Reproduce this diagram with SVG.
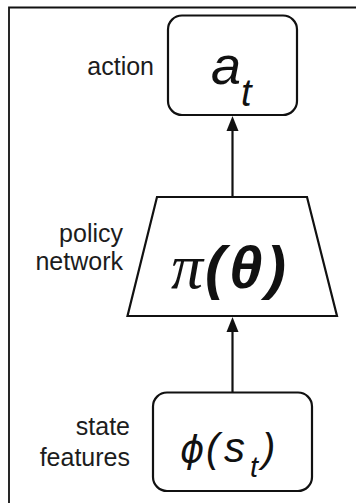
<svg xmlns="http://www.w3.org/2000/svg" width="356" height="503" viewBox="0 0 356 503">
<style>
.box{fill:#fff;stroke:#111;stroke-width:2.2}
.lbl{font-family:"Liberation Sans",Arial,sans-serif;font-size:25px;fill:#1c1c1c;text-anchor:end}
.math{font-family:"Liberation Sans",Arial,sans-serif;font-style:italic;fill:#111}
.conn{stroke:#111;stroke-width:2.2;fill:none}
.head{fill:#111}
</style>
<rect x="0" y="0" width="356" height="503" fill="#fff"/>
<g id="frame">
<path d="M9,503 V7.5 H356" fill="none" stroke="#111" stroke-width="1.8"/>
</g>
<g id="connectors">
<line class="conn" x1="232.5" y1="197" x2="232.5" y2="131"/>
<path class="head" d="M226.5,131 L232.5,116 L238.5,131 Z"/>
<line class="conn" x1="232.5" y1="392" x2="232.5" y2="332"/>
<path class="head" d="M226.5,332 L232.5,317 L238.5,332 Z"/>
</g>
<g id="action">
<rect class="box" x="168" y="15.5" width="129" height="99.5" rx="14"/>
<text class="math" x="211" y="84" font-size="54">a</text>
<text class="math" x="241" y="106" font-size="38">t</text>
<text class="lbl" x="154" y="75">action</text>
</g>
<g id="policy">
<path class="box" d="M157,197 L307,197 L337,316 L127.5,316 Z"/>
<text x="171" y="288" font-family="'Liberation Serif','Times New Roman',serif" font-style="italic" font-size="64" fill="#111">π</text>
<text class="math" x="205" y="288" font-size="60" font-weight="bold">(</text>
<text class="math" x="229" y="288" font-size="60" font-weight="bold">θ</text>
<text class="math" x="266" y="288" font-size="60" font-weight="bold">)</text>
<text class="lbl" x="123" y="242">policy</text>
<text class="lbl" x="123" y="269.5">network</text>
</g>
<g id="state">
<rect class="box" x="153" y="392.5" width="159" height="98.5" rx="14"/>
<text x="180" y="462" font-family="'DejaVu Sans',sans-serif" font-style="italic" font-size="37" fill="#111">ϕ</text>
<text class="math" x="206" y="462" font-size="40">(</text>
<text class="math" x="224" y="462" font-size="42">s</text>
<text class="math" x="250" y="477" font-size="29">t</text>
<text class="math" x="262" y="462" font-size="40">)</text>
<text class="lbl" x="130" y="435">state</text>
<text class="lbl" x="130" y="465.5">features</text>
</g>
</svg>
